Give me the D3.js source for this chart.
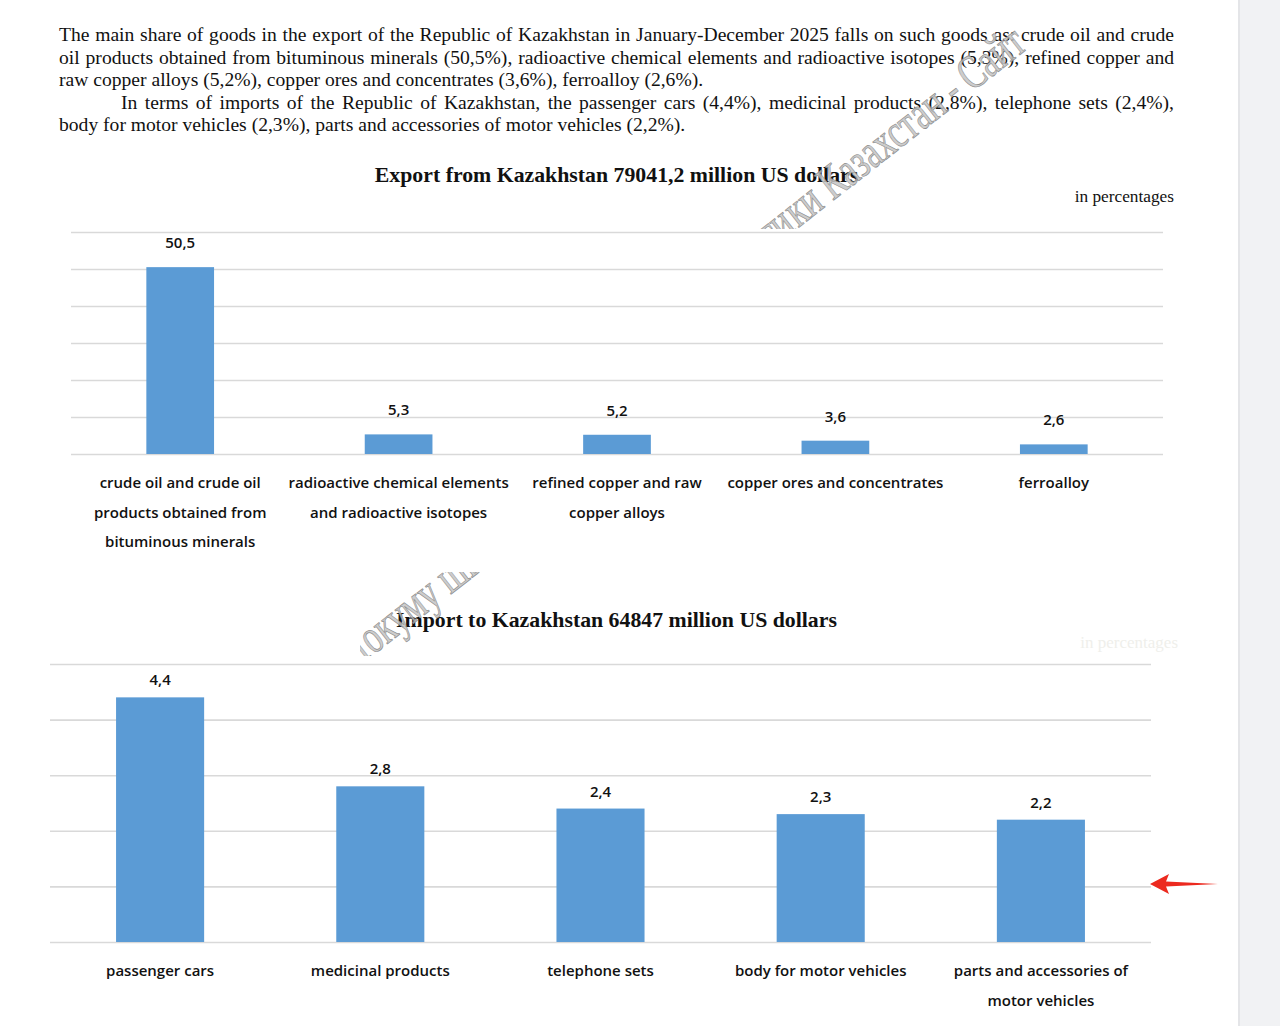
<!DOCTYPE html>
<html>
<head>
<meta charset="utf-8">
<script src="https://cdn.jsdelivr.net/npm/d3@7"></script>
<style>
  html, body { margin: 0; padding: 0; background: #fff; }
  svg { display: block; }
</style>
</head>
<body>
<svg width="1280" height="1026"></svg>
<script>
// paragraph lines (text as shown in the document)
const introLines = [
  "The main share of goods in the export of the Republic of Kazakhstan in January-December 2025 falls on such goods as: crude oil and crude",
  "oil products obtained from bituminous minerals (50,5%), radioactive chemical elements and radioactive isotopes (5,3%), refined copper and",
  "raw copper alloys (5,2%), copper ores and concentrates (3,6%), ferroalloy (2,6%).",
  "In terms of imports of the Republic of Kazakhstan, the passenger cars (4,4%), medicinal products (2,8%), telephone sets (2,4%),",
  "body for motor vehicles (2,3%), parts and accessories of motor vehicles (2,2%)."
];
const introIndent = [false, false, false, true, false];
const introJustify = [true, true, false, true, false];

const exportTitle = "Export from Kazakhstan 79041,2 million US dollars";
const importTitle = "Import to Kazakhstan 64847 million US dollars";
const unitNote = "in percentages";

const exportCats = [
  ["crude oil and crude oil", "products obtained from", "bituminous minerals"],
  ["radioactive chemical elements", "and radioactive isotopes"],
  ["refined copper and raw", "copper alloys"],
  ["copper ores and concentrates"],
  ["ferroalloy"]
];
const exportValues = [50.5, 5.3, 5.2, 3.6, 2.6];
const exportTicks = [0, 10, 20, 30, 40, 50, 60];

const importCats = [
  ["passenger cars"],
  ["medicinal products"],
  ["telephone sets"],
  ["body for motor vehicles"],
  ["parts and accessories of", "motor vehicles"]
];
const importValues = [4.4, 2.8, 2.4, 2.3, 2.2];
const importTicks = [0, 1, 2, 3, 4, 5];

const barColor = "#5b9bd5";
const gridColor = "#d9d9d9";
const serif = "'Liberation Serif', 'Times New Roman', serif";
const sans = "'Open Sans', 'Noto Sans', sans-serif";
const fmt = v => String(v).replace(".", ",");

const svg = d3.select("svg");
svg.append("rect").attr("width", 1280).attr("height", 1026).attr("fill", "#fff");

// grey viewer margin on the right
svg.append("rect").attr("x", 1238).attr("y", 0).attr("width", 42).attr("height", 1026).attr("fill", "#f1f2f4");
svg.append("rect").attr("x", 1238).attr("y", 0).attr("width", 2).attr("height", 1026).attr("fill", "#e4e5e8");

// intro paragraph, justified by word spacing
const textLeft = 59, textRight = 1174;
introLines.forEach((line, i) => {
  const x0 = introIndent[i] ? 121 : textLeft;
  const t = svg.append("text")
    .attr("x", x0)
    .attr("y", 41 + i * 22.5)
    .attr("font-family", serif)
    .attr("font-size", 19.6)
    .attr("fill", "#111")
    .style("white-space", "pre")
    .text(line);
  if (introJustify[i]) {
    const w = t.node().getComputedTextLength();
    const spaces = line.split(" ").length - 1;
    t.attr("word-spacing", (textRight - x0 - w) / spaces);
  }
});

function drawChart(opt) {
  const g = svg.append("g");
  const x = d3.scaleBand().domain(d3.range(opt.values.length)).range([opt.left, opt.right]);
  const y = d3.scaleLinear().domain(d3.extent(opt.ticks)).range([opt.bottom, opt.top]);

  // gridlines
  g.append("g")
    .attr("transform", "translate(" + opt.left + ",0)")
    .call(d3.axisLeft(y).tickValues(opt.ticks).tickSize(-(opt.right - opt.left)).tickFormat(""))
    .call(a => a.select(".domain").remove())
    .call(a => a.selectAll("line").attr("stroke", gridColor).attr("stroke-width", 1.6));

  const bw = x.bandwidth() * opt.barFrac;
  g.selectAll(".bar")
    .data(opt.values)
    .enter().append("rect")
    .attr("class", "bar")
    .attr("fill", barColor)
    .attr("x", (d, i) => x(i) + (x.bandwidth() - bw) / 2)
    .attr("width", bw)
    .attr("y", d => y(d))
    .attr("height", d => y(0) - y(d));

  g.selectAll(".val")
    .data(opt.values)
    .enter().append("text")
    .attr("x", (d, i) => x(i) + x.bandwidth() / 2)
    .attr("y", d => y(d) - opt.valOffset)
    .attr("text-anchor", "middle")
    .attr("font-family", sans)
    .attr("font-size", 15)
    .attr("font-weight", 600)
    .attr("fill", "#111")
    .text(d => fmt(d));

  const cat = g.selectAll(".cat")
    .data(opt.cats)
    .enter().append("text")
    .attr("text-anchor", "middle")
    .attr("font-family", sans)
    .attr("font-size", 15)
    .attr("font-weight", 600)
    .attr("fill", "#111");
  cat.selectAll("tspan")
    .data((d, i) => d.map(s => ({s: s, i: i})))
    .enter().append("tspan")
    .attr("x", d => x(d.i) + x.bandwidth() / 2)
    .attr("y", (d, j) => opt.labelY + j * 29.5)
    .text(d => d.s);

  svg.append("text")
    .attr("x", 616.5)
    .attr("y", opt.titleY)
    .attr("text-anchor", "middle")
    .attr("font-family", serif)
    .attr("font-weight", "bold")
    .attr("font-size", 21.8)
    .attr("fill", "#111")
    .text(opt.title);
}

drawChart({
  values: exportValues, cats: exportCats, ticks: exportTicks,
  left: 71, right: 1163, top: 232, bottom: 454, barFrac: 0.31,
  valOffset: 19, labelY: 488, titleY: 182, title: exportTitle
});

drawChart({
  values: importValues, cats: importCats, ticks: importTicks,
  left: 50, right: 1151, top: 664, bottom: 942, barFrac: 0.4,
  valOffset: 12, labelY: 976, titleY: 627, title: importTitle
});

svg.append("text")
  .attr("x", 1174).attr("y", 202)
  .attr("text-anchor", "end")
  .attr("font-family", serif)
  .attr("font-size", 17.3)
  .attr("fill", "#111")
  .text(unitNote);

// faded, erased unit note near the import chart
svg.append("text")
  .attr("x", 1178).attr("y", 648)
  .attr("text-anchor", "end")
  .attr("font-family", serif)
  .attr("font-size", 17)
  .attr("fill", "#efefeb")
  .text(unitNote);

// watermarks, clipped to the strips where they show
const defs = svg.append("defs");
defs.append("clipPath").attr("id", "wm1").append("rect")
  .attr("x", 760).attr("y", 0).attr("width", 360).attr("height", 229);
defs.append("clipPath").attr("id", "wm2").append("rect")
  .attr("x", 360).attr("y", 572).attr("width", 130).attr("height", 84);

function watermark(before, after, x0, y0, clip) {
  const g = svg.append("g").attr("clip-path", "url(#" + clip + ")")
    .append("g")
    .attr("transform", "translate(" + x0 + "," + y0 + ") rotate(-38) scale(0.72,1)")
    .attr("font-family", serif)
    .attr("font-size", 48)
    .attr("fill", "#c4c4c4")
    .attr("fill-opacity", 0.85)
    .attr("stroke", "#8c8c8c")
    .attr("stroke-width", 0.7);
  g.append("text").attr("text-anchor", "end").text(before);
  g.append("text").attr("x", 2).text(after);
}
watermark("статисти", "ки Казахстан - Сайт", 797, 229, "wm1");
watermark("д", "окуму шы", 372, 656, "wm2");

// red arrow
svg.append("path")
  .attr("d", "M1150,884 L1169,874 L1166,881.5 L1218,884 L1166,886.5 L1169,894 Z")
  .attr("fill", "#ec2a1f");
</script>
</body>
</html>
